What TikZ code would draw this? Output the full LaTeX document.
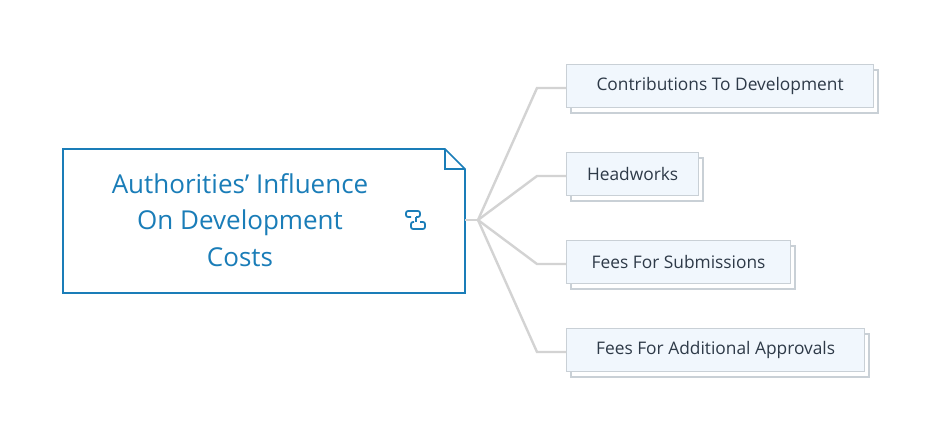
\documentclass[tikz,border=0pt]{standalone}
\usepackage{fontspec}
\setmainfont{Open Sans}
\definecolor{mainblue}{HTML}{1A7DB8}
\definecolor{linegray}{HTML}{D3D3D3}
\definecolor{boxfill}{HTML}{F1F7FD}
\definecolor{boxline}{HTML}{C9D0D6}
\definecolor{txt}{HTML}{2E3A48}
\begin{document}
\begin{tikzpicture}[x=0.75pt,y=-0.75pt,
  conn/.style={draw=linegray,line width=1.8pt},
  child/.style={draw=boxline,fill=boxfill,line width=0.9pt,anchor=west,minimum height=32pt,inner xsep=12.5pt,font=\fontsize{13pt}{15pt}\selectfont,text=txt},
  shadowbox/.style={draw=boxline,fill=white,line width=0.9pt}]
\useasboundingbox (0,0) rectangle (942,439);
% main node
\draw[mainblue,line width=1.2pt,fill=white] (63,149) -- (445,149) -- (465,169) -- (465,293) -- (63,293) -- cycle;
\draw[mainblue,line width=1.2pt] (445,149) -- (445,169) -- (465,169);
\node[coordinate] (mainR) at (465,220) {};
\node[align=center,text=mainblue,font=\fontsize{19.5pt}{27.5pt}\selectfont] (main) at (240,220) {Authorities' Influence\\On Development\\Costs};
% icon
\node[coordinate] (icon) at (418,220) {};
\draw[mainblue,line width=1.3pt,rounded corners=1.5pt] (411,217) -- (406,217) -- (406,211) -- (420,211) -- (420,217) -- (416,217);
\draw[mainblue,line width=1.3pt,rounded corners=1.5pt] (420,222) -- (425,222) -- (425,229) -- (411,229) -- (411,222) -- (414,222);
\draw[mainblue,line width=1.3pt,rounded corners=1.5pt] (416,217) -- (416,222);
% children
\foreach \n/\y/\w/\t in {c1/86/307/Contributions To Development,c2/174/132/Headworks,c3/262/224/Fees For Submissions,c4/350/298/Fees For Additional Approvals}{
  \draw[shadowbox] (571,\y-16) rectangle (571+\w,\y+27);
  \node[child,minimum width=\w*0.75pt] (\n) at (566,\y) {\t};
}
\node[coordinate] (hub) at (478,220) {};
\draw[conn] (mainR) -- (hub);
\foreach \n/\y in {c1/88,c2/176,c3/264,c4/352}{
  \draw[conn] (hub) -- (537,\y) -- (\n.west |- 0,\y);
}
\end{tikzpicture}
\end{document}
